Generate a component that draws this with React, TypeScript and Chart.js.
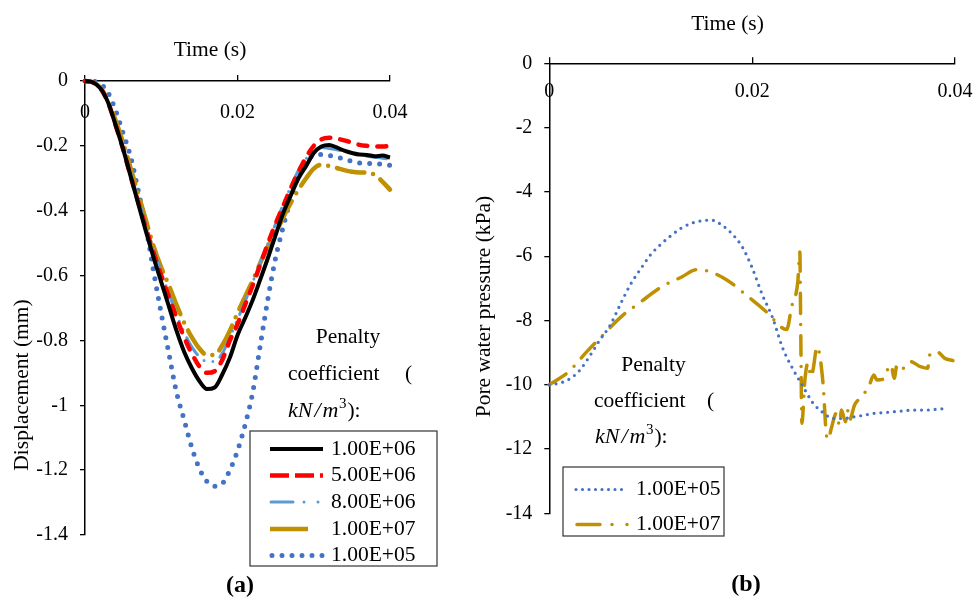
import React, { useEffect, useRef } from 'react';
import { Chart, registerables } from 'chart.js';

Chart.register(...registerables);

const FONT = "'Liberation Serif', 'Times New Roman', Times, serif";

// ---------- Panel (a): displacement ----------
const timeA = [0, 0.001, 0.002, 0.003, 0.004, 0.005, 0.006, 0.007, 0.008, 0.009, 0.01, 0.011, 0.012, 0.013, 0.014, 0.015, 0.016, 0.017, 0.018, 0.019, 0.02, 0.021, 0.022, 0.023, 0.024, 0.025, 0.026, 0.027, 0.028, 0.029, 0.03, 0.031, 0.032, 0.033, 0.034, 0.035, 0.036, 0.037, 0.038, 0.039, 0.04];
const dispK1e6 = [0, -0.004, -0.022, -0.065, -0.135, -0.21, -0.295, -0.38, -0.465, -0.545, -0.62, -0.695, -0.77, -0.835, -0.885, -0.925, -0.95, -0.945, -0.905, -0.853, -0.784, -0.731, -0.675, -0.611, -0.545, -0.475, -0.407, -0.352, -0.3, -0.262, -0.222, -0.202, -0.197, -0.205, -0.215, -0.222, -0.227, -0.228, -0.232, -0.23, -0.236];
const dispK5e6 = [0, -0.004, -0.022, -0.065, -0.135, -0.21, -0.295, -0.375, -0.455, -0.53, -0.6, -0.665, -0.73, -0.79, -0.84, -0.88, -0.9, -0.895, -0.86, -0.8, -0.75, -0.69, -0.63, -0.565, -0.5, -0.44, -0.385, -0.33, -0.28, -0.235, -0.2, -0.18, -0.175, -0.178, -0.183, -0.19, -0.197, -0.2, -0.202, -0.202, -0.2];
const dispK8e6 = [0, -0.004, -0.022, -0.065, -0.13, -0.205, -0.285, -0.365, -0.445, -0.52, -0.59, -0.655, -0.72, -0.775, -0.82, -0.85, -0.865, -0.865, -0.84, -0.79, -0.735, -0.68, -0.62, -0.56, -0.5, -0.44, -0.38, -0.325, -0.275, -0.24, -0.215, -0.205, -0.208, -0.212, -0.217, -0.222, -0.228, -0.232, -0.235, -0.238, -0.242];
const dispK1e7 = [0, -0.004, -0.02, -0.06, -0.12, -0.19, -0.27, -0.35, -0.43, -0.51, -0.575, -0.63, -0.69, -0.745, -0.79, -0.825, -0.845, -0.845, -0.815, -0.77, -0.715, -0.665, -0.615, -0.56, -0.51, -0.47, -0.42, -0.375, -0.335, -0.3, -0.27, -0.258, -0.262, -0.268, -0.275, -0.28, -0.282, -0.282, -0.29, -0.31, -0.335];
const dispK1e5 = [0, -0.001, -0.008, -0.035, -0.09, -0.161, -0.235, -0.34, -0.45, -0.588, -0.717, -0.84, -0.96, -1.045, -1.13, -1.195, -1.235, -1.25, -1.242, -1.2, -1.14, -1.06, -0.96, -0.813, -0.67, -0.545, -0.449, -0.362, -0.29, -0.245, -0.23, -0.227, -0.23, -0.235, -0.24, -0.248, -0.253, -0.254, -0.255, -0.257, -0.26];
const legendLabelsA = ['1.00E+06', '5.00E+06', '8.00E+06', '1.00E+07', '1.00E+05'];
const dispTicks = [0, -0.2, -0.4, -0.6, -0.8, -1, -1.2, -1.4];
const dispTickLabels = ['0', '-0.2', '-0.4', '-0.6', '-0.8', '-1', '-1.2', '-1.4'];

// ---------- Panel (b): pore water pressure ----------
const timeB1e5 = [0, 0.001, 0.002, 0.003, 0.004, 0.005, 0.006, 0.007, 0.008, 0.009, 0.01, 0.011, 0.012, 0.013, 0.014, 0.015, 0.016, 0.017, 0.018, 0.019, 0.02, 0.021, 0.022, 0.023, 0.024, 0.025, 0.026, 0.027, 0.028, 0.029, 0.03, 0.031, 0.032, 0.033, 0.034, 0.035, 0.036, 0.037, 0.038, 0.039];
const pwpK1e5 = [-10, -9.95, -9.82, -9.55, -9.1, -8.6, -8.15, -7.5, -6.88, -6.4, -5.95, -5.63, -5.36, -5.13, -4.98, -4.9, -4.88, -5.03, -5.3, -5.7, -6.36, -7.2, -7.9, -8.85, -9.5, -10.05, -10.57, -10.87, -11.05, -11.05, -11.0, -10.95, -10.89, -10.87, -10.84, -10.81, -10.79, -10.79, -10.77, -10.74];
const timeB1e7 = [0, 0.0019, 0.0037, 0.0053, 0.0071, 0.0089, 0.0111, 0.0131, 0.0145, 0.0155, 0.0175, 0.0196, 0.0214, 0.0234, 0.0239, 0.0245, 0.0247, 0.0248, 0.0249, 0.0252, 0.0255, 0.0258, 0.026, 0.0264, 0.027, 0.0273, 0.0275, 0.0278, 0.0283, 0.0286, 0.0288, 0.0292, 0.0294, 0.0296, 0.0301, 0.0308, 0.0315, 0.032, 0.0323, 0.0329, 0.0334, 0.0337, 0.034, 0.0343, 0.0349, 0.0356, 0.0366, 0.0373, 0.0375, 0.0382, 0.039, 0.0398];
const pwpK1e7 = [-10, -9.6, -8.97, -8.45, -7.88, -7.45, -6.95, -6.64, -6.42, -6.45, -6.74, -7.26, -7.73, -8.28, -7.57, -6.8, -5.87, -8.6, -11.2, -9.85, -9.33, -9.75, -9.54, -8.82, -10.0, -11.51, -11.7, -11.36, -10.89, -11.25, -10.79, -11.15, -10.79, -11.1, -10.63, -10.37, -10.06, -9.7, -9.85, -9.83, -9.5, -9.39, -9.8, -9.36, -9.49, -9.28, -9.44, -9.49, -9.08, -8.97, -9.18, -9.25];
const legendLabelsB = ['1.00E+05', '1.00E+07'];
const pwpTicks = [0, -2, -4, -6, -8, -10, -12, -14];
const pwpTickLabels = ['0', '-2', '-4', '-6', '-8', '-10', '-12', '-14'];

const timeTicks = [0, 0.02, 0.04];
const timeTickLabels = ['0', '0.02', '0.04'];

// ---------- styles ----------
const BLACK = '#000000';
const RED = '#FF0000';
const LIGHTBLUE = '#5B9BD5';
const GOLD = '#BF9000';
const BLUE = '#4472C4';

type LegendItem = { label: string; color: string; width: number; dash: number[]; cap: CanvasLineCap; x0: number; x1: number };
type TextItem = { text: string; x: number; y: number; font: string; align?: CanvasTextAlign; baseline?: CanvasTextBaseline; rotate?: number };
type OverlayCfg = {
  xTickY: number;
  texts: TextItem[];
  unit: { x: number; y: number };
  box: [number, number, number, number];
  rows: number[];
  textX: number;
  items: LegendItem[];
};

function makeOverlay(cfg: OverlayCfg) {
  return {
    id: 'overlay',
    afterDraw(chart: any) {
      const ctx: CanvasRenderingContext2D = chart.ctx;
      ctx.save();
      ctx.fillStyle = '#000';
      // x tick labels (below the top axis line)
      const xs = chart.scales.x;
      ctx.font = `20px ${FONT}`;
      ctx.textAlign = 'center';
      ctx.textBaseline = 'middle';
      xs.ticks.forEach((t: any, i: number) => {
        ctx.fillText(timeTickLabels[i], xs.getPixelForValue(t.value), cfg.xTickY);
      });
      // free texts
      for (const t of cfg.texts) {
        ctx.save();
        ctx.font = t.font;
        ctx.textAlign = t.align || 'left';
        ctx.textBaseline = t.baseline || 'alphabetic';
        ctx.translate(t.x, t.y);
        if (t.rotate) ctx.rotate(t.rotate);
        ctx.fillText(t.text, 0, 0);
        ctx.restore();
      }
      // unit kN/m^3):
      {
        let x = cfg.unit.x;
        const y = cfg.unit.y;
        ctx.textAlign = 'left';
        ctx.textBaseline = 'alphabetic';
        ctx.font = `italic 22px ${FONT}`;
        ctx.fillText('kN', x, y);
        x += ctx.measureText('kN').width + 2;
        ctx.fillText('/', x, y);
        x += ctx.measureText('/').width + 2;
        ctx.fillText('m', x, y);
        x += ctx.measureText('m').width + 0.5;
        ctx.font = `15px ${FONT}`;
        ctx.fillText('3', x, y - 9);
        x += ctx.measureText('3').width + 1;
        ctx.font = `21.5px ${FONT}`;
        ctx.fillText('):', x, y);
      }
      // legend box
      const [bx, by, bw, bh] = cfg.box;
      ctx.setLineDash([]);
      ctx.strokeStyle = '#333333';
      ctx.lineWidth = 1.2;
      ctx.strokeRect(bx, by, bw, bh);
      cfg.items.forEach((it, i) => {
        const y = cfg.rows[i];
        ctx.save();
        ctx.beginPath();
        ctx.strokeStyle = it.color;
        ctx.lineWidth = it.width;
        ctx.lineCap = it.cap;
        ctx.setLineDash(it.dash);
        ctx.moveTo(it.x0, y);
        ctx.lineTo(it.x1, y);
        ctx.stroke();
        ctx.restore();
        ctx.font = `21.5px ${FONT}`;
        ctx.textAlign = 'left';
        ctx.textBaseline = 'middle';
        ctx.fillStyle = '#000';
        ctx.fillText(it.label, cfg.textX, y);
      });
      ctx.restore();
    },
  };
}

function xAxis(height: number) {
  return {
    type: 'linear',
    position: 'top',
    min: 0,
    max: 0.04,
    afterBuildTicks: (s: any) => {
      s.ticks = timeTicks.map((v) => ({ value: v }));
    },
    afterFit: (s: any) => {
      s.height = height;
    },
    ticks: { display: false },
    grid: { display: true, drawOnChartArea: false, drawTicks: true, tickLength: 6, color: '#000', lineWidth: 1.3 },
    border: { display: true, color: '#000', width: 1.5 },
  };
}

function yAxis(width: number, ticks: number[], labels: string[], min: number) {
  return {
    type: 'linear',
    position: 'left',
    min,
    max: 0,
    afterBuildTicks: (s: any) => {
      s.ticks = ticks.map((v) => ({ value: v }));
    },
    afterFit: (s: any) => {
      s.width = width;
    },
    ticks: {
      callback: (_v: any, i: number) => labels[i],
      font: { family: FONT, size: 20 },
      color: '#000',
      padding: 12,
    },
    grid: { display: true, drawOnChartArea: false, drawTicks: true, tickLength: 5, color: '#000', lineWidth: 1.3 },
    border: { display: true, color: '#000', width: 1.5 },
  };
}

function line(label: string, xs: number[], ys: number[], color: string, width: number, dash: number[], cap: CanvasLineCap) {
  return {
    label,
    data: xs.map((x, i) => ({ x, y: ys[i] })),
    borderColor: color,
    backgroundColor: color,
    borderWidth: width,
    borderDash: dash,
    borderCapStyle: cap,
    borderJoinStyle: 'round',
    pointRadius: 0,
    fill: false,
    cubicInterpolationMode: 'monotone',
    clip: false,
  };
}

export default function App() {
  const refA = useRef<HTMLCanvasElement>(null);
  const refB = useRef<HTMLCanvasElement>(null);

  useEffect(() => {
    const common = {
      responsive: false,
      animation: false,
      events: [],
      plugins: { legend: { display: false }, tooltip: { enabled: false }, title: { display: false } },
    };

    const chartA = new Chart(refA.current!, {
      type: 'line',
      data: {
        datasets: [
          line(legendLabelsA[0], timeA, dispK1e6, BLACK, 4, [], 'butt'),
          line(legendLabelsA[1], timeA, dispK5e6, RED, 4.5, [9, 10], 'round'),
          line(legendLabelsA[2], timeA, dispK8e6, LIGHTBLUE, 3, [20, 9, 0, 9, 0, 9], 'round'),
          line(legendLabelsA[3], timeA, dispK1e7, GOLD, 4.5, [28, 9, 0, 9], 'round'),
          line(legendLabelsA[4], timeA, dispK1e5, BLUE, 5, [0, 10], 'round'),
        ] as any,
      },
      options: {
        ...common,
        layout: { padding: { left: 0, top: 0, right: 70, bottom: 63 } },
        scales: {
          x: xAxis(81),
          y: yAxis(85, dispTicks, dispTickLabels, -1.4),
        } as any,
      } as any,
      plugins: [
        makeOverlay({
          xTickY: 112.5,
          texts: [
            { text: 'Time (s)', x: 210, y: 56, font: `21.5px ${FONT}`, align: 'center' },
            { text: 'Displacement (mm)', x: 28, y: 385, font: `21.5px ${FONT}`, align: 'center', rotate: -Math.PI / 2 },
            { text: 'Penalty', x: 348, y: 343, font: `21.5px ${FONT}`, align: 'center' },
            { text: 'coefficient', x: 288, y: 380, font: `21.5px ${FONT}` },
            { text: '(', x: 405, y: 380, font: `21.5px ${FONT}` },
            { text: '(a)', x: 240, y: 592, font: `bold 24px ${FONT}`, align: 'center' },
          ],
          unit: { x: 288, y: 417 },
          box: [250, 431, 187, 135],
          rows: [449, 475.5, 502, 529, 555.5],
          textX: 331,
          items: [
            { label: legendLabelsA[0], color: BLACK, width: 4, dash: [], cap: 'butt', x0: 270, x1: 323 },
            { label: legendLabelsA[1], color: RED, width: 4.5, dash: [19, 6], cap: 'butt', x0: 270, x1: 323 },
            { label: legendLabelsA[2], color: LIGHTBLUE, width: 3, dash: [22, 11, 0, 14, 0, 30], cap: 'round', x0: 271, x1: 323 },
            { label: legendLabelsA[3], color: GOLD, width: 4.5, dash: [38, 30], cap: 'butt', x0: 270, x1: 323 },
            { label: legendLabelsA[4], color: BLUE, width: 5, dash: [0, 10], cap: 'round', x0: 272, x1: 323 },
          ],
        }),
      ],
    } as any);

    const chartB = new Chart(refB.current!, {
      type: 'line',
      data: {
        datasets: [
          line(legendLabelsB[0], timeB1e5, pwpK1e5, BLUE, 3.2, [0, 6.8], 'round'),
          line(legendLabelsB[1], timeB1e7, pwpK1e7, GOLD, 3.5, [20, 11, 0, 11], 'round'),
        ] as any,
      },
      options: {
        ...common,
        layout: { padding: { left: 0, top: 0, right: 19, bottom: 84.7 } },
        scales: {
          x: xAxis(63.3),
          y: yAxis(89.3, pwpTicks, pwpTickLabels, -14),
        } as any,
      } as any,
      plugins: [
        makeOverlay({
          xTickY: 91.5,
          texts: [
            { text: 'Time (s)', x: 267.5, y: 30, font: `21.5px ${FONT}`, align: 'center' },
            { text: 'Pore water pressure (kPa)', x: 30, y: 306.5, font: `21.5px ${FONT}`, align: 'center', rotate: -Math.PI / 2 },
            { text: 'Penalty', x: 193.5, y: 371, font: `21.5px ${FONT}`, align: 'center' },
            { text: 'coefficient', x: 134, y: 407, font: `21.5px ${FONT}` },
            { text: '(', x: 247, y: 407, font: `21.5px ${FONT}` },
            { text: '(b)', x: 286, y: 591, font: `bold 24px ${FONT}`, align: 'center' },
          ],
          unit: { x: 135, y: 443 },
          box: [103, 467, 161, 69],
          rows: [489.5, 524.5],
          textX: 176,
          items: [
            { label: legendLabelsB[0], color: BLUE, width: 3.2, dash: [0, 6.5], cap: 'round', x0: 116, x1: 167 },
            { label: legendLabelsB[1], color: GOLD, width: 3.5, dash: [23, 12, 0, 15, 0, 30], cap: 'round', x0: 117, x1: 168 },
          ],
        }),
      ],
    } as any);

    return () => {
      chartA.destroy();
      chartB.destroy();
    };
  }, []);

  return (
    <div style={{ position: 'absolute', left: 0, top: 0, width: 974, height: 598, background: '#fff' }}>
      <canvas ref={refA} width={460} height={598} style={{ position: 'absolute', left: 0, top: 0, width: 460, height: 598 }} />
      <canvas ref={refB} width={514} height={598} style={{ position: 'absolute', left: 460, top: 0, width: 514, height: 598 }} />
    </div>
  );
}
